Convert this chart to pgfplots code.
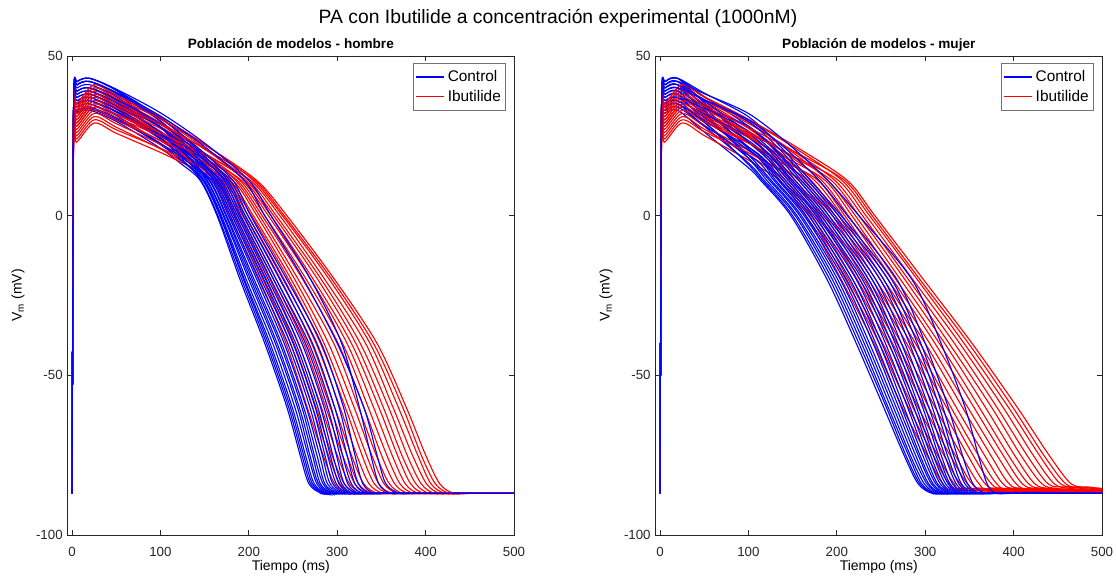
\documentclass[border=0pt]{standalone}
\usepackage{fontspec}
\setmainfont{Liberation Sans}
\usepackage{pgfplots}
\pgfplotsset{compat=1.18}
\definecolor{axgray}{RGB}{38,38,38}
\definecolor{legblue}{RGB}{0,0,255}
\definecolor{legred}{RGB}{255,0,0}

\pgfplotsset{
  apaxis/.style={
    scale only axis,
    width=318.9pt, height=342.1pt,
    xmin=-5, xmax=500, ymin=-100, ymax=50,
    xtick={0,100,200,300,400,500},
    ytick={-100,-50,0,50},
    tick align=inside,
    major tick length=3.5pt,
    axis line style={axgray, line width=0.5pt},
    every tick/.style={axgray, line width=0.5pt},
    tick label style={font=\fontsize{9.5}{11}\selectfont, text=axgray},
    /pgf/number format/assume math mode=true,
    xticklabel style={yshift=-5.5pt},
    label style={font=\fontsize{11}{13}\selectfont, text=axgray},
    every axis x label/.style={at={(axis description cs:0.5,-0.067)}, anchor=center},
    every axis y label/.style={at={(axis description cs:-0.111,0.5)}, rotate=90, anchor=center},
    xlabel={Tiempo (ms)},
    ylabel={V\textsubscript{m} (mV)},
    every axis title shift=0pt,
    title style={at={(axis description cs:0.5,1)}, anchor=base, yshift=5.3pt,
                 font=\fontsize{9.7}{11}\selectfont\bfseries},
    legend style={at={(0.982,0.985)}, anchor=north east, draw=black!55,
                  font=\fontsize{11}{13}\selectfont, inner xsep=1.5pt, inner ysep=3pt,
                  row sep=0.5pt, cells={anchor=west}},
  },
  cb/.style={blue, line width=0.8pt, smooth, forget plot},
  cr/.style={red, line width=0.8pt, smooth, forget plot},
  legctl/.style={legend image code/.code={\draw[draw=legblue, line width=0.9pt] (0cm,0cm) -- (0.72cm,0cm);}},
  legibu/.style={legend image code/.code={\draw[draw=legred, line width=0.9pt] (0cm,0cm) -- (0.72cm,0cm);}},
}

\begin{document}
\begin{tikzpicture}
\path[use as bounding box] (-48.3pt,-29.3pt) rectangle (748.9pt,382.1pt);

% ---------- hombre ----------
\begin{axis}[apaxis, title={Población de modelos - hombre}]
\addlegendimage{legctl}\addlegendentry{Control}
\addlegendimage{legibu}\addlegendentry{Ibutilide}
\addplot[cb] coordinates {(0,-87)(1,-15)(2,29)(6,32)(20,33)(50,29.5)(100,21.1)(122.5,16.4)(145,11)(164,0)(190,-20)(218,-40)(243,-60)(258,-75)(268,-84)(283,-87)(303,-87)(500,-87)};
\addplot[cr] coordinates {(0,-87)(1,-15)(2,29)(5,25)(25,31)(50,27.7)(100,20.9)(129,16.2)(158,11)(178,0)(212,-20)(242,-40)(266,-60)(284,-75)(297,-84)(312,-87)(332,-87)(500,-87)};
\addplot[cb] coordinates {(0,-87)(1,-15)(2,34)(6,37)(20,38)(50,34.2)(100,24.2)(123,18.1)(146,11)(165,0)(192,-20)(220,-40)(245,-60)(260,-75)(270,-84)(285,-87)(305,-87)(500,-87)};
\addplot[cr] coordinates {(0,-87)(1,-15)(2,34)(5,30)(25,36)(50,32.5)(100,24.5)(130.5,18.3)(161,11)(181,0)(216,-20)(247,-40)(272,-60)(290,-75)(303,-84)(318,-87)(338,-87)(500,-87)};
\addplot[cb] coordinates {(0,-87)(1,-15)(2,31)(6,34)(20,35)(50,31.4)(100,22.6)(124,17.2)(148,11)(167,0)(194,-20)(222,-40)(247,-60)(262,-75)(272,-84)(287,-87)(307,-87)(500,-87)};
\addplot[cr] coordinates {(0,-87)(1,-15)(2,27)(5,23)(25,29)(50,25.8)(100,19.8)(131.5,15.6)(163,11)(184,0)(220,-20)(251,-40)(276,-60)(294,-75)(308,-84)(323,-87)(343,-87)(500,-87)};
\addplot[cb] coordinates {(0,-87)(1,-15)(2,36)(6,39)(20,40)(50,36.1)(100,25.8)(124.5,19)(149,11)(168,0)(195,-20)(224,-40)(249,-60)(264,-75)(274,-84)(289,-87)(309,-87)(500,-87)};
\addplot[cr] coordinates {(0,-87)(1,-15)(2,32)(5,28)(25,34)(50,30.6)(100,23.4)(132.5,17.6)(165,11)(187,0)(224,-20)(256,-40)(282,-60)(300,-75)(314,-84)(329,-87)(349,-87)(500,-87)};
\addplot[cb] coordinates {(0,-87)(1,-15)(2,30)(6,33)(20,34)(50,30.5)(100,22.2)(125,17)(150,11)(169,0)(197,-20)(227,-40)(252,-60)(267,-75)(277,-84)(291,-87)(311,-87)(500,-87)};
\addplot[cr] coordinates {(0,-87)(1,-15)(2,36)(5,32)(25,38)(50,34.5)(100,26.4)(134,19.4)(168,11)(190,0)(228,-20)(262,-40)(287,-60)(306,-75)(320,-84)(335,-87)(355,-87)(500,-87)};
\addplot[cb] coordinates {(0,-87)(1,-15)(2,33)(6,36)(20,37)(50,33.3)(100,24.3)(126,18.1)(152,11)(171,0)(200,-20)(230,-40)(255,-60)(269,-75)(279,-84)(294,-87)(314,-87)(500,-87)};
\addplot[cr] coordinates {(0,-87)(1,-15)(2,30)(5,26)(25,32)(50,28.8)(100,22.3)(135,17)(170,11)(193,0)(231,-20)(266,-40)(292,-60)(311,-75)(324,-84)(340,-87)(360,-87)(500,-87)};
\addplot[cb] coordinates {(0,-87)(1,-15)(2,38)(6,41)(20,42)(50,38.1)(100,27.6)(126.5,20)(153,11)(172,0)(202,-20)(232,-40)(257,-60)(272,-75)(281,-84)(296,-87)(316,-87)(500,-87)};
\addplot[cr] coordinates {(0,-87)(1,-15)(2,35)(5,31)(25,37)(50,33.6)(100,26)(136,19.1)(172,11)(196,0)(236,-20)(271,-40)(297,-60)(316,-75)(330,-84)(346,-87)(366,-87)(500,-87)};
\addplot[cb] coordinates {(0,-87)(1,-15)(2,32)(6,35)(20,36)(50,32.4)(100,24)(127.5,18)(155,11)(174,0)(204,-20)(235,-40)(260,-60)(274,-75)(284,-84)(298,-87)(318,-87)(500,-87)};
\addplot[cr] coordinates {(0,-87)(1,-15)(2,28)(5,24)(25,30)(50,26.9)(100,21.1)(137.5,16.2)(175,11)(199,0)(240,-20)(276,-40)(303,-60)(322,-75)(336,-84)(352,-87)(372,-87)(500,-87)};
\addplot[cb] coordinates {(0,-87)(1,-15)(2,35)(6,38)(20,39)(50,35.3)(100,26)(128,19.1)(156,11)(175,0)(206,-20)(237,-40)(262,-60)(277,-75)(286,-84)(301,-87)(321,-87)(500,-87)};
\addplot[cr] coordinates {(0,-87)(1,-15)(2,37)(5,33)(25,39)(50,35.6)(100,27.8)(138.5,20.2)(177,11)(203,0)(245,-20)(281,-40)(309,-60)(328,-75)(342,-84)(358,-87)(378,-87)(500,-87)};
\addplot[cb] coordinates {(0,-87)(1,-15)(2,29.5)(6,32.5)(20,33.5)(50,30.1)(100,22.6)(129,17.2)(158,11)(177,0)(209,-20)(240,-40)(265,-60)(280,-75)(289,-84)(304,-87)(324,-87)(500,-87)};
\addplot[cr] coordinates {(0,-87)(1,-15)(2,33)(5,29)(25,35)(50,31.7)(100,25)(139.5,18.5)(179,11)(205,0)(248,-20)(285,-40)(313,-60)(333,-75)(347,-84)(362,-87)(382,-87)(500,-87)};
\addplot[cb] coordinates {(0,-87)(1,-15)(2,37)(6,40)(20,41)(50,37.3)(100,27.8)(130,20.1)(160,11)(179,0)(211,-20)(244,-40)(269,-60)(283,-75)(292,-84)(307,-87)(327,-87)(500,-87)};
\addplot[cr] coordinates {(0,-87)(1,-15)(2,31)(5,27)(25,33)(50,29.8)(100,23.6)(141,17.7)(182,11)(209,0)(252,-20)(290,-40)(319,-60)(339,-75)(353,-84)(368,-87)(388,-87)(500,-87)};
\addplot[cb] coordinates {(0,-87)(1,-15)(2,33)(6,36)(20,37)(50,33.5)(100,25.3)(131,18.7)(162,11)(181,0)(214,-20)(247,-40)(272,-60)(286,-75)(295,-84)(310,-87)(330,-87)(500,-87)};
\addplot[cr] coordinates {(0,-87)(1,-15)(2,38)(5,34)(25,40)(50,36.6)(100,29.1)(142.5,20.9)(185,11)(212,0)(256,-20)(296,-40)(324,-60)(344,-75)(359,-84)(374,-87)(394,-87)(500,-87)};
\addplot[cb] coordinates {(0,-87)(1,-15)(2,39)(6,42)(20,43)(50,39.2)(100,29.6)(132,21.2)(164,11)(183,0)(217,-20)(250,-40)(275,-60)(289,-75)(299,-84)(313,-87)(333,-87)(500,-87)};
\addplot[cr] coordinates {(0,-87)(1,-15)(2,34)(5,30)(25,36)(50,32.7)(100,26.1)(143.5,19.1)(187,11)(215,0)(261,-20)(301,-40)(330,-60)(350,-75)(365,-84)(380,-87)(400,-87)(500,-87)};
\addplot[cb] coordinates {(0,-87)(1,-15)(2,34)(6,37)(20,38)(50,34.5)(100,26.2)(132.5,19.2)(165,11)(185,0)(219,-20)(253,-40)(278,-60)(292,-75)(302,-84)(315,-87)(335,-87)(500,-87)};
\addplot[cr] coordinates {(0,-87)(1,-15)(2,36)(5,32)(25,38)(50,34.7)(100,27.8)(145,20.1)(190,11)(218,0)(265,-20)(306,-40)(335,-60)(356,-75)(371,-84)(386,-87)(406,-87)(500,-87)};
\addplot[cb] coordinates {(0,-87)(1,-15)(2,36)(6,39)(20,40)(50,36.4)(100,27.8)(133.5,20.1)(167,11)(187,0)(222,-20)(256,-40)(281,-60)(295,-75)(305,-84)(318,-87)(338,-87)(500,-87)};
\addplot[cr] coordinates {(0,-87)(1,-15)(2,32)(5,28)(25,34)(50,30.8)(100,24.8)(146,18.3)(192,11)(222,0)(270,-20)(311,-40)(341,-60)(362,-75)(377,-84)(392,-87)(412,-87)(500,-87)};
\addplot[cb] coordinates {(0,-87)(1,-15)(2,32)(6,35)(20,36)(50,32.6)(100,25.1)(134.5,18.6)(169,11)(189,0)(225,-20)(260,-40)(285,-60)(299,-75)(308,-84)(322,-87)(342,-87)(500,-87)};
\addplot[cr] coordinates {(0,-87)(1,-15)(2,39)(5,35)(25,41)(50,37.6)(100,30.4)(147.5,21.6)(195,11)(225,0)(273,-20)(316,-40)(347,-60)(368,-75)(383,-84)(398,-87)(418,-87)(500,-87)};
\addplot[cb] coordinates {(0,-87)(1,-15)(2,38)(6,41)(20,42)(50,38.4)(100,29.6)(136,21.2)(172,11)(191,0)(228,-20)(264,-40)(289,-60)(303,-75)(312,-84)(325,-87)(345,-87)(500,-87)};
\addplot[cr] coordinates {(0,-87)(1,-15)(2,35)(5,31)(25,37)(50,33.8)(100,27.3)(148.5,19.8)(197,11)(228,0)(278,-20)(321,-40)(352,-60)(373,-75)(389,-84)(404,-87)(424,-87)(500,-87)};
\addplot[cb] coordinates {(0,-87)(1,-15)(2,35)(6,38)(20,39)(50,35.5)(100,27.6)(137,20)(174,11)(194,0)(231,-20)(268,-40)(293,-60)(306,-75)(316,-84)(329,-87)(349,-87)(500,-87)};
\addplot[cr] coordinates {(0,-87)(1,-15)(2,37)(5,33)(25,39)(50,35.7)(100,29)(150,20.8)(200,11)(231,0)(282,-20)(326,-40)(358,-60)(379,-75)(395,-84)(410,-87)(430,-87)(500,-87)};
\addplot[cb] coordinates {(0,-87)(1,-15)(2,39)(6,42)(20,43)(50,39.4)(100,30.7)(138,21.8)(176,11)(196,0)(235,-20)(272,-40)(297,-60)(311,-75)(320,-84)(333,-87)(353,-87)(500,-87)};
\addplot[cr] coordinates {(0,-87)(1,-15)(2,33)(5,29)(25,35)(50,31.8)(100,25.9)(151,18.9)(202,11)(235,0)(286,-20)(332,-40)(363,-60)(385,-75)(401,-84)(416,-87)(436,-87)(500,-87)};
\addplot[cb] coordinates {(0,-87)(1,-15)(2,36)(6,39)(20,40)(50,36.5)(100,28.7)(139.5,20.7)(179,11)(199,0)(239,-20)(277,-40)(302,-60)(315,-75)(324,-84)(337,-87)(357,-87)(500,-87)};
\addplot[cr] coordinates {(0,-87)(1,-15)(2,39)(5,35)(25,41)(50,37.7)(100,30.9)(152.5,21.9)(205,11)(238,0)(291,-20)(337,-40)(369,-60)(391,-75)(406,-84)(422,-87)(442,-87)(500,-87)};
\addplot[cb] coordinates {(0,-87)(1,-15)(2,38)(6,41)(20,42)(50,38.5)(100,30.4)(141,21.6)(182,11)(202,0)(243,-20)(282,-40)(307,-60)(320,-75)(329,-84)(342,-87)(362,-87)(500,-87)};
\addplot[cr] coordinates {(0,-87)(1,-15)(2,36)(5,32)(25,38)(50,34.8)(100,28.5)(153.5,20.4)(207,11)(240,0)(294,-20)(341,-40)(374,-60)(395,-75)(411,-84)(427,-87)(447,-87)(500,-87)};
\addplot[cr] coordinates {(0,-87)(1,-15)(2,38)(5,34)(25,40)(50,36.8)(100,30.2)(154.5,21.4)(209,11)(243,0)(297,-20)(345,-40)(378,-60)(400,-75)(416,-84)(432,-87)(452,-87)(500,-87)};
\addplot[cb] coordinates {(0,-87)(1,-15)(2,38)(6,41)(20,42)(50,38.6)(100,31.2)(147.5,22.1)(195,11)(218,0)(262,-20)(300,-40)(330,-60)(345,-75)(355,-84)(371,-87)(391,-87)(500,-87)};
\addplot[cb] coordinates {(0,-87)(1,-15)(2,39)(6,42)(20,43)(50,39.6)(100,32.2)(150,22.7)(200,11)(225,0)(270,-20)(305,-40)(325,-60)(338,-75)(347,-84)(360,-87)(380,-87)(500,-87)};
\end{axis}

% ---------- mujer ----------
\begin{axis}[apaxis, at={(420pt,0pt)}, title={Población de modelos - mujer}]
\addlegendimage{legctl}\addlegendentry{Control}
\addlegendimage{legibu}\addlegendentry{Ibutilide}
\addplot[cb] coordinates {(0,-87)(1,-15)(2,29)(6,32)(20,33)(50,26.2)(100,15)(114,11)(148,0)(189,-20)(222,-40)(253,-60)(276,-75)(292,-84)(308,-87)(328,-87)(500,-87)};
\addplot[cr] coordinates {(0,-87)(1,-15)(2,27)(5,23)(25,29)(50,25.1)(100,17.4)(117.5,14.3)(135,11)(165,0)(205,-20)(242,-40)(274,-60)(302,-75)(320,-84)(338,-86)(500,-87)};
\addplot[cb] coordinates {(0,-87)(1,-15)(2,34)(6,37)(20,38)(50,29.6)(100,16)(116,11)(150,0)(192,-20)(225,-40)(256,-60)(278,-75)(294,-84)(310,-87)(330,-87)(500,-87)};
\addplot[cr] coordinates {(0,-87)(1,-15)(2,32)(5,28)(25,34)(50,29.9)(100,20.5)(119.5,16)(139,11)(169,0)(210,-20)(248,-40)(281,-60)(309,-75)(327,-84)(345,-85.5)(500,-86.5)};
\addplot[cb] coordinates {(0,-87)(1,-15)(2,31)(6,34)(20,35)(50,28)(100,16.5)(118,11)(153,0)(195,-20)(228,-40)(258,-60)(281,-75)(296,-84)(312,-87)(332,-87)(500,-87)};
\addplot[cr] coordinates {(0,-87)(1,-15)(2,29)(5,25)(25,31)(50,27.1)(100,19.1)(121,15.2)(142,11)(172,0)(213,-20)(252,-40)(286,-60)(314,-75)(333,-84)(351,-86)(500,-87)};
\addplot[cb] coordinates {(0,-87)(1,-15)(2,37)(6,40)(20,41)(50,32.3)(100,18)(121,11)(155,0)(198,-20)(231,-40)(261,-60)(283,-75)(299,-84)(314,-87)(334,-87)(500,-87)};
\addplot[cr] coordinates {(0,-87)(1,-15)(2,35)(5,31)(25,37)(50,32.8)(100,23)(123,17.4)(146,11)(176,0)(218,-20)(258,-40)(292,-60)(321,-75)(340,-84)(359,-85.5)(500,-86)};
\addplot[cb] coordinates {(0,-87)(1,-15)(2,32)(6,35)(20,36)(50,29.2)(100,18)(124,11)(158,0)(201,-20)(234,-40)(264,-60)(286,-75)(302,-84)(317,-87)(337,-87)(500,-87)};
\addplot[cr] coordinates {(0,-87)(1,-15)(2,30)(5,26)(25,32)(50,28.1)(100,20.4)(125,15.9)(150,11)(180,0)(223,-20)(263,-40)(299,-60)(328,-75)(348,-84)(366,-86)(500,-87)};
\addplot[cb] coordinates {(0,-87)(1,-15)(2,35)(6,38)(20,39)(50,31.4)(100,19)(126,11)(160,0)(204,-20)(237,-40)(267,-60)(289,-75)(304,-84)(319,-87)(339,-87)(500,-87)};
\addplot[cr] coordinates {(0,-87)(1,-15)(2,37)(5,33)(25,39)(50,34.8)(100,25)(126.5,18.5)(153,11)(183,0)(226,-20)(268,-40)(304,-60)(334,-75)(353,-84)(372,-85.5)(500,-86.5)};
\addplot[cb] coordinates {(0,-87)(1,-15)(2,30)(6,33)(20,34)(50,28.3)(100,19)(114.5,16)(129,11)(163,0)(208,-20)(241,-40)(270,-60)(292,-75)(307,-84)(322,-87)(342,-87)(500,-87)};
\addplot[cr] coordinates {(0,-87)(1,-15)(2,33)(5,29)(25,35)(50,31)(100,22.8)(128.5,17.2)(157,11)(187,0)(231,-20)(273,-40)(311,-60)(341,-75)(361,-84)(379,-86)(500,-87)};
\addplot[cb] coordinates {(0,-87)(1,-15)(2,38)(6,41)(20,42)(50,34)(100,21)(115.5,17)(131,11)(165,0)(211,-20)(244,-40)(273,-60)(294,-75)(309,-84)(324,-87)(344,-87)(500,-87)};
\addplot[cr] coordinates {(0,-87)(1,-15)(2,28)(5,24)(25,30)(50,26.3)(100,19.7)(130,15.4)(160,11)(191,0)(236,-20)(279,-40)(318,-60)(348,-75)(368,-84)(387,-85.5)(500,-86)};
\addplot[cb] coordinates {(0,-87)(1,-15)(2,33)(6,36)(20,37)(50,30.7)(100,20.5)(117,16.8)(134,11)(168,0)(215,-20)(248,-40)(276,-60)(297,-75)(312,-84)(327,-87)(347,-87)(500,-87)};
\addplot[cr] coordinates {(0,-87)(1,-15)(2,36)(5,32)(25,38)(50,34)(100,25.4)(132,18.7)(164,11)(195,0)(240,-20)(284,-40)(324,-60)(354,-75)(375,-84)(394,-85.5)(500,-86.5)};
\addplot[cb] coordinates {(0,-87)(1,-15)(2,36)(6,39)(20,40)(50,33)(100,21.5)(118,17.3)(136,11)(171,0)(218,-20)(251,-40)(280,-60)(300,-75)(314,-84)(330,-87)(350,-87)(500,-87)};
\addplot[cr] coordinates {(0,-87)(1,-15)(2,32)(5,28)(25,34)(50,30.2)(100,22.8)(133.5,17.2)(167,11)(198,0)(244,-20)(289,-40)(329,-60)(360,-75)(381,-84)(400,-86)(500,-87)};
\addplot[cb] coordinates {(0,-87)(1,-15)(2,31)(6,34)(20,35)(50,29.7)(100,21.5)(119.5,17.3)(139,11)(174,0)(222,-20)(255,-40)(283,-60)(303,-75)(317,-84)(332,-87)(352,-87)(500,-87)};
\addplot[cr] coordinates {(0,-87)(1,-15)(2,38)(5,34)(25,40)(50,36)(100,27.4)(135.5,19.8)(171,11)(202,0)(249,-20)(294,-40)(335,-60)(367,-75)(388,-84)(407,-85.5)(500,-86)};
\addplot[cb] coordinates {(0,-87)(1,-15)(2,39)(6,42)(20,43)(50,35.4)(100,23)(121,18)(142,11)(177,0)(226,-20)(259,-40)(287,-60)(306,-75)(320,-84)(335,-87)(355,-87)(500,-87)};
\addplot[cr] coordinates {(0,-87)(1,-15)(2,34)(5,30)(25,36)(50,32.2)(100,24.7)(137.5,18.2)(175,11)(206,0)(253,-20)(300,-40)(342,-60)(374,-75)(395,-84)(414,-85.5)(500,-86.5)};
\addplot[cb] coordinates {(0,-87)(1,-15)(2,34)(6,37)(20,38)(50,32.3)(100,23.5)(122.5,18.3)(145,11)(179,0)(229,-20)(262,-40)(290,-60)(309,-75)(323,-84)(338,-87)(358,-87)(500,-87)};
\addplot[cr] coordinates {(0,-87)(1,-15)(2,31)(5,27)(25,33)(50,29.3)(100,22.7)(139.5,17)(179,11)(209,0)(258,-20)(305,-40)(348,-60)(381,-75)(403,-84)(422,-86)(500,-87)};
\addplot[cb] coordinates {(0,-87)(1,-15)(2,37)(6,40)(20,41)(50,34.6)(100,24.5)(124,18.8)(148,11)(182,0)(233,-20)(266,-40)(293,-60)(312,-75)(326,-84)(340,-87)(360,-87)(500,-87)};
\addplot[cr] coordinates {(0,-87)(1,-15)(2,37)(5,33)(25,39)(50,35.1)(100,27.4)(141.5,19.7)(183,11)(213,0)(263,-20)(311,-40)(355,-60)(388,-75)(410,-84)(429,-85.5)(500,-86)};
\addplot[cb] coordinates {(0,-87)(1,-15)(2,32)(6,35)(20,36)(50,31.8)(100,24.5)(125,18.8)(150,11)(185,0)(236,-20)(269,-40)(297,-60)(315,-75)(328,-84)(343,-87)(363,-87)(500,-87)};
\addplot[cr] coordinates {(0,-87)(1,-15)(2,33)(5,29)(25,35)(50,31.3)(100,24.5)(143.5,18)(187,11)(217,0)(267,-20)(316,-40)(361,-60)(394,-75)(417,-84)(436,-85.5)(500,-86.5)};
\addplot[cb] coordinates {(0,-87)(1,-15)(2,38)(6,41)(20,42)(50,35.9)(100,26)(126.5,19.5)(153,11)(188,0)(240,-20)(273,-40)(300,-60)(318,-75)(331,-84)(346,-87)(366,-87)(500,-87)};
\addplot[cr] coordinates {(0,-87)(1,-15)(2,39)(5,35)(25,41)(50,37.1)(100,29.3)(145,20.8)(190,11)(221,0)(272,-20)(322,-40)(368,-60)(401,-75)(424,-84)(444,-85.5)(500,-86)};
\addplot[cb] coordinates {(0,-87)(1,-15)(2,35)(6,38)(20,39)(50,34.1)(100,26.5)(128.5,19.8)(157,11)(191,0)(244,-20)(277,-40)(304,-60)(322,-75)(335,-84)(349,-87)(369,-87)(500,-87)};
\addplot[cr] coordinates {(0,-87)(1,-15)(2,35)(5,31)(25,37)(50,33.3)(100,26.3)(147,19)(194,11)(225,0)(277,-20)(327,-40)(375,-60)(408,-75)(432,-84)(451,-85.5)(500,-86.5)};
\addplot[cb] coordinates {(0,-87)(1,-15)(2,39)(6,42)(20,43)(50,37.3)(100,28)(130,20.5)(160,11)(195,0)(249,-20)(282,-40)(308,-60)(325,-75)(338,-84)(352,-87)(372,-87)(500,-87)};
\addplot[cr] coordinates {(0,-87)(1,-15)(2,38)(5,34)(25,40)(50,36.2)(100,28.9)(149,20.5)(198,11)(229,0)(281,-20)(333,-40)(381,-60)(415,-75)(439,-84)(459,-85)(500,-85.5)};
\addplot[cb] coordinates {(0,-87)(1,-15)(2,33)(6,36)(20,37)(50,33.6)(100,28)(131.5,20.5)(163,11)(198,0)(253,-20)(286,-40)(312,-60)(329,-75)(341,-84)(356,-87)(376,-87)(500,-87)};
\addplot[cr] coordinates {(0,-87)(1,-15)(2,34)(5,30)(25,36)(50,32.3)(100,25.8)(151,18.6)(202,11)(233,0)(286,-20)(339,-40)(388,-60)(422,-75)(446,-84)(466,-85.5)(500,-86)};
\addplot[cb] coordinates {(0,-87)(1,-15)(2,37)(6,40)(20,41)(50,36.4)(100,29.5)(133.5,21.3)(167,11)(202,0)(258,-20)(291,-40)(316,-60)(332,-75)(345,-84)(359,-87)(379,-87)(500,-87)};
\addplot[cr] coordinates {(0,-87)(1,-15)(2,39)(5,35)(25,41)(50,37.2)(100,30)(153,21.1)(206,11)(237,0)(291,-20)(344,-40)(394,-60)(429,-75)(453,-84)(473,-85)(500,-85.5)};
\addplot[cb] coordinates {(0,-87)(1,-15)(2,39)(6,42)(20,43)(50,38.4)(100,31)(135,22)(170,11)(205,0)(262,-20)(295,-40)(320,-60)(336,-75)(348,-84)(362,-87)(382,-87)(500,-87)};
\addplot[cr] coordinates {(0,-87)(1,-15)(2,36)(5,32)(25,38)(50,34.3)(100,27.6)(154.5,19.7)(209,11)(240,0)(294,-20)(349,-40)(399,-60)(434,-75)(459,-84)(479,-85.5)(500,-86)};
\addplot[cr] coordinates {(0,-87)(1,-15)(2,39)(5,35)(25,41)(50,37.2)(100,30.2)(156,21.2)(212,11)(243,0)(298,-20)(353,-40)(404,-60)(440,-75)(465,-84)(485,-85)(500,-85.5)};
\addplot[cb] coordinates {(0,-87)(1,-15)(2,38)(6,41)(20,42)(50,38.2)(100,32)(145,22.5)(190,11)(225,0)(285,-20)(318,-40)(345,-60)(360,-75)(370,-84)(380,-87)(400,-87)(500,-87)};
\addplot[cb] coordinates {(0,-87)(1,-15)(2,36)(6,39)(20,40)(50,36.2)(100,30)(140,21.5)(180,11)(212,0)(268,-20)(300,-40)(326,-60)(342,-75)(354,-84)(368,-87)(388,-87)(500,-87)};
\end{axis}

\node[font=\fontsize{13.8}{16}\selectfont, anchor=center] at (350.3pt,369.2pt)
  {PA con Ibutilide a concentración experimental (1000nM)};
\end{tikzpicture}
\end{document}
